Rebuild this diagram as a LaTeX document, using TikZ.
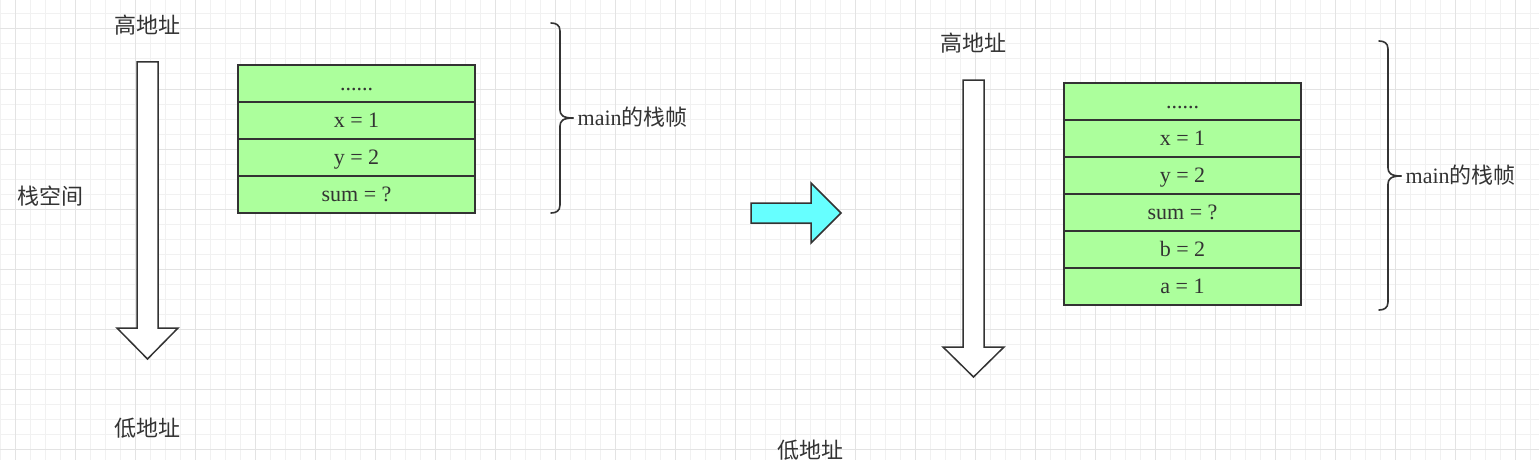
\documentclass[tikz,border=0pt]{standalone}
\usepackage{fontspec}
\setmainfont{Liberation Serif}
\newfontfamily\cjk{Noto Sans CJK SC}
\definecolor{cellgreen}{HTML}{ACFF9C}
\definecolor{ink}{HTML}{333333}
\definecolor{gridminor}{HTML}{F1F1F1}
\definecolor{gridmajor}{HTML}{E3E3E3}
\definecolor{cyanfill}{HTML}{66FFFF}
\begin{document}
\begin{tikzpicture}[x=1pt,y=-1pt,
  cell/.style={draw=ink, line width=1.5pt, fill=cellgreen, minimum width=237pt,
    minimum height=37pt, inner sep=0pt, text=ink, text height=17pt, text depth=3pt,
    font=\fontsize{22}{25}\selectfont},
  cjklabel/.style={text=ink, inner sep=0pt, font=\cjk\fontsize{22}{25}\selectfont},
  mixlabel/.style={text=ink, inner sep=0pt, anchor=west, font=\fontsize{22}{25}\selectfont},
  blockarrow/.style={draw=ink, line width=1.5pt, fill=white, line join=miter},
  bracestyle/.style={draw=ink, line width=1.6pt, line cap=round}]
\useasboundingbox (0,0) rectangle (1539,460);
\fill[white] (0,0) rectangle (1539,460);
% grid
\foreach \gx in {0,15,...,1530} \draw[gridminor, line width=1pt] (\gx,0) -- (\gx,460);
\foreach \gy in {14,29,...,459} \draw[gridminor, line width=1pt] (0,\gy) -- (1539,\gy);
\foreach \gx in {15,75,...,1530} \draw[gridmajor, line width=1pt] (\gx,0) -- (\gx,460);
\foreach \gy in {29,89,...,459} \draw[gridmajor, line width=1pt] (0,\gy) -- (1539,\gy);

% left side
\node[cjklabel] (hiA) at (147.5,25) {高地址};
\node[cjklabel] (loA) at (147.5,428) {低地址};
\node[cjklabel] (stack) at (50.5,196) {栈空间};
\draw[blockarrow] (137,62) -- (158,62) -- (158,328) -- (178,328) -- (147.5,359) -- (117,328) -- (137,328) -- cycle;

\node[cell] (l0) at (356.5,83.5) {......};
\node[cell] (l1) at (356.5,120.5) {x = 1};
\node[cell] (l2) at (356.5,157.5) {y = 2};
\node[cell] (l3) at (356.5,194.5) {sum = ?};

\draw[bracestyle] (551,23) .. controls (556,23) and (560,25) .. (560,31) -- (560,110) .. controls (560,115) and (563,118) .. (573,118);
\draw[bracestyle] (551,213) .. controls (556,213) and (560,211) .. (560,205) -- (560,126) .. controls (560,121) and (563,118) .. (573,118);
\node[mixlabel] (mainA) at (577.5,117) {main{\cjk 的栈帧}};

% middle arrow
\draw[draw=ink, line width=1.5pt, fill=cyanfill, line join=miter] (751,203) -- (811,203) -- (811,183) -- (841,213) -- (811,243) -- (811,223) -- (751,223) -- cycle;
\node[cjklabel] (loB) at (810.5,450) {低地址};

% right side
\node[cjklabel] (hiB) at (973.5,43) {高地址};
\draw[blockarrow] (963,80) -- (984,80) -- (984,347) -- (1004,347) -- (973.5,377) -- (943,347) -- (963,347) -- cycle;

\node[cell] (r0) at (1182.5,101.5) {......};
\node[cell] (r1) at (1182.5,138.5) {x = 1};
\node[cell] (r2) at (1182.5,175.5) {y = 2};
\node[cell] (r3) at (1182.5,212.5) {sum = ?};
\node[cell] (r4) at (1182.5,249.5) {b = 2};
\node[cell] (r5) at (1182.5,286.5) {a = 1};

\draw[bracestyle] (1379,41) .. controls (1384,41) and (1388,43) .. (1388,49) -- (1388,168) .. controls (1388,173) and (1391,176) .. (1401,176);
\draw[bracestyle] (1379,310) .. controls (1384,310) and (1388,308) .. (1388,302) -- (1388,184) .. controls (1388,179) and (1391,176) .. (1401,176);
\node[mixlabel] (mainB) at (1405.5,175) {main{\cjk 的栈帧}};
\end{tikzpicture}
\end{document}
